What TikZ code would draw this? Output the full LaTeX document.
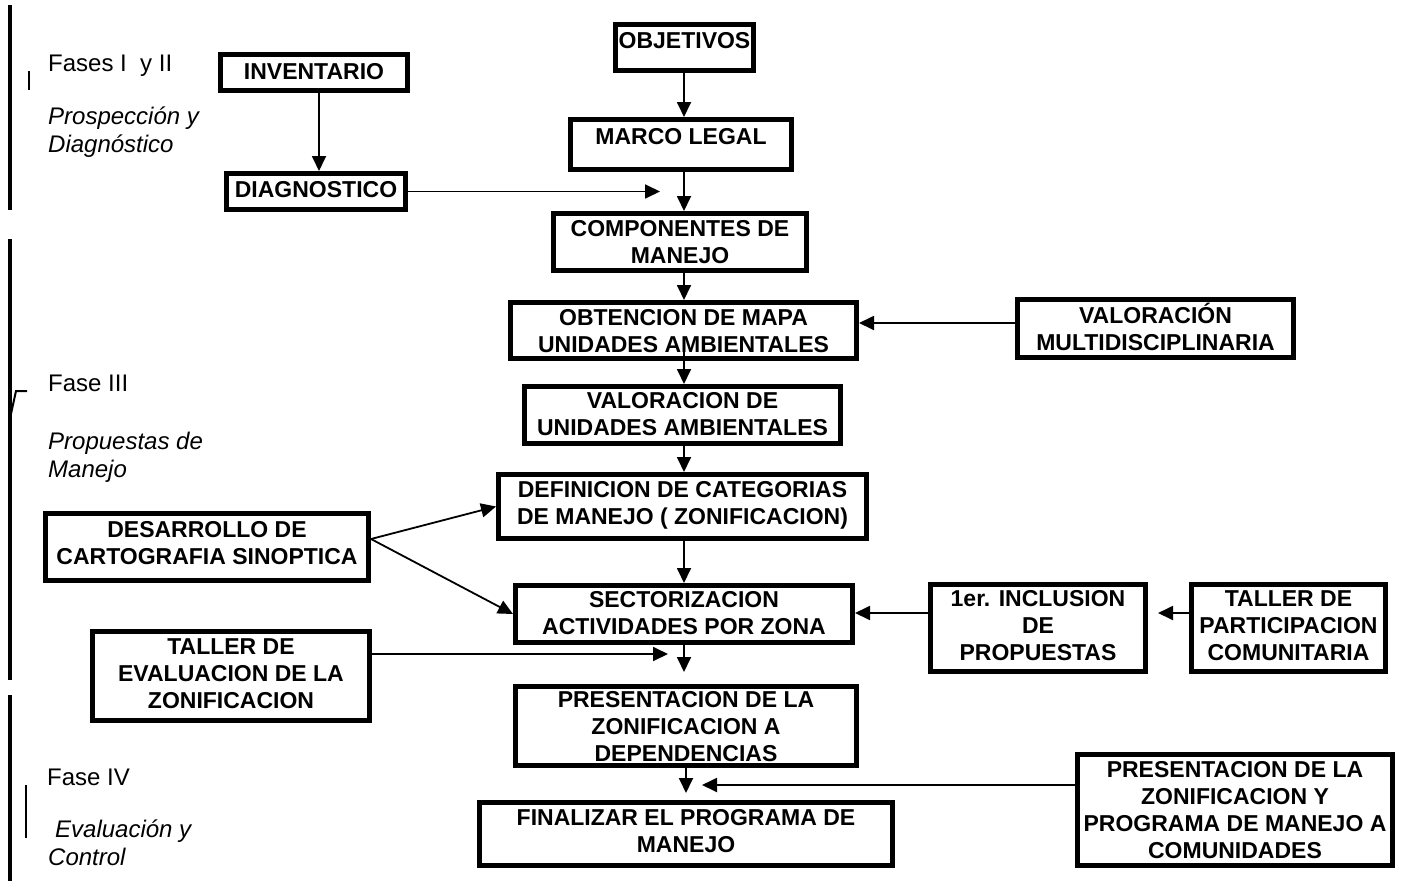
\documentclass[tikz,border=0pt]{standalone}
\usepackage{fontspec}
\setmainfont{Liberation Sans}
\usetikzlibrary{arrows.meta,calc}
\tikzset{
  boxst/.style={draw, line width=5pt, inner sep=0pt, rectangle},
  btxt/.style={font=\fontsize{23}{27}\selectfont\bfseries, align=center, inner sep=0pt},
  lbl/.style={font=\fontsize{24}{28}\selectfont, anchor=west, align=left, inner sep=0pt},
  lbli/.style={font=\fontsize{24}{28}\selectfont\itshape, anchor=west, align=left, inner sep=0pt},
  arr/.style={line width=1.8pt, -{Triangle[length=15pt,width=14pt]}},
  bar/.style={line width=3.5pt},
  tick/.style={line width=2pt},
}
\newcommand{\mybox}[7]{%
  \node[boxst, minimum width={#3-#2-5}, minimum height={#5-#4-5}] (#1) at ({(#2+#3)/2},{(#4+#5)/2}) {};
  \node[btxt] (#1t) at ({(#2+#3)/2},#6) {#7};}
\begin{document}
\begin{tikzpicture}[x=1pt,y=-1pt]
\useasboundingbox (0,0) rectangle (1408,881);
\fill[white] (0,0) rectangle (1408,881);

% phase bars
\draw[bar] (10,5) -- (10,210);
\draw[tick] (29,71) -- (29,90);
\draw[bar] (10,239) -- (10,680);
\draw[tick] (9,423) -- (16,391) -- (27,391);
\draw[bar] (10,695) -- (10,881);
\draw[tick] (26,785) -- (26,838);

% phase labels
\node[lbl] (fa) at (48,66) {Fases I\ \ y II};
\node[lbli] (fai) at (48,132) {Prospección y\\Diagnóstico};
\node[lbl] (fb) at (48,383) {Fase III};
\node[lbli] (fbi) at (48,457) {Propuestas de\\Manejo};
\node[lbl] (fc) at (47,777) {Fase IV};
\node[lbli] (fci) at (48,843) {\hspace*{7pt}Evaluación y\\Control};

% boxes
\mybox{OBJ}{613}{756}{22}{73}{41}{OBJETIVOS}
\mybox{MARCO}{568}{794}{117}{172}{137}{MARCO LEGAL}
\mybox{COMP}{551}{809}{211}{273}{242}{COMPONENTES DE\\MANEJO}
\mybox{INV}{218}{410}{52}{93}{72}{INVENTARIO}
\mybox{DIAG}{224}{408}{171}{212}{190}{DIAGNOSTICO}
\mybox{OBT}{508}{859}{300}{361}{331}{OBTENCION DE MAPA\\UNIDADES AMBIENTALES}
\mybox{VALM}{1015}{1296}{297}{360}{327}{VALORACIÓN\\MULTIDISCIPLINARIA}
\mybox{VAL}{522}{843}{384}{446}{414}{VALORACION DE\\UNIDADES AMBIENTALES}
\mybox{DEF}{496}{869}{472}{541}{505}{DEFINICION DE CATEGORIAS\\DE MANEJO ( ZONIFICACION)}
\mybox{DES}{43}{371}{511}{583}{543}{DESARROLLO DE\\CARTOGRAFIA SINOPTICA}
\mybox{SECT}{513}{855}{583}{645}{613}{SECTORIZACION\\ACTIVIDADES POR ZONA}
\mybox{INC}{928}{1148}{582}{674}{626}{1er. INCLUSION\\DE\\PROPUESTAS}
\mybox{TPART}{1189}{1388}{582}{674}{626}{TALLER DE\\PARTICIPACION\\COMUNITARIA}
\mybox{TEVAL}{90}{372}{629}{723}{674}{TALLER DE\\EVALUACION DE LA\\ZONIFICACION}
\mybox{PDEP}{513}{859}{684}{768}{727}{PRESENTACION DE LA\\ZONIFICACION A\\DEPENDENCIAS}
\mybox{FIN}{477}{895}{800}{868}{831}{FINALIZAR EL PROGRAMA DE\\MANEJO}
\mybox{PCOM}{1075}{1395}{752}{868}{810}{PRESENTACION DE LA\\ZONIFICACION Y\\PROGRAMA DE MANEJO A\\COMUNIDADES}

% helper coordinates
\coordinate (axis) at (684,0);
\coordinate (c1) at (660,0);
\coordinate (yv) at (0,323);
\coordinate (yi) at (0,613);
\coordinate (ci) at (1158,613);
\coordinate (c2) at (684,672);
\coordinate (c3) at (668,654);
\coordinate (c4) at (0,793);
\coordinate (c5) at (702,785);

% connectors
\draw[arr] ([xshift=5pt]INV.south) -- ([xshift=5pt]INV.south |- DIAG.north);
\draw[arr] (DIAG.east) -- (DIAG.east -| c1);
\draw[arr] (OBJ.south -| axis) -- (MARCO.north -| axis);
\draw[arr] (MARCO.south -| axis) -- (COMP.north -| axis);
\draw[arr] (COMP.south -| axis) -- (OBT.north -| axis);
\draw[arr] (VALM.west |- yv) -- (OBT.east |- yv);
\draw[arr] ($(OBT.south -| axis)+(0,-18)$) -- (VAL.north -| axis);
\draw[arr] (VAL.south -| axis) -- (DEF.north -| axis);
\draw[arr] (DEF.south -| axis) -- (SECT.north -| axis);
\draw[arr] ($(DES.east)+(0,-8)$) -- (DEF.west);
\draw[arr] ($(DES.east)+(0,-8)$) -- (SECT.west);
\draw[arr] (INC.west |- yi) -- (SECT.east |- yi);
\draw[arr] (TPART.west |- yi) -- (ci);
\draw[arr] (SECT.south -| axis) -- (c2);
\draw[arr] (TEVAL.east |- c3) -- (c3);
\draw[arr] (PDEP.south) -- (PDEP.south |- c4);
\draw[arr] (PCOM.west |- c5) -- (c5);
\end{tikzpicture}
\end{document}
